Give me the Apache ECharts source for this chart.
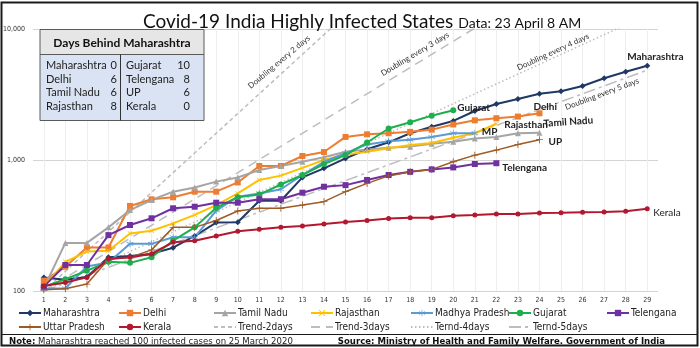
<!DOCTYPE html>
<html>
<head>
<meta charset="utf-8">
<script src="https://cdn.jsdelivr.net/npm/echarts@6/dist/echarts.min.js"></script>
<style>
  html, body { margin: 0; padding: 0; background: #ffffff; }
  #chart { width: 700px; height: 348px; }
</style>
</head>
<body>
<div id="chart"></div>
<script>
// Days since each state crossed 100 confirmed cases
const days = ['1','2','3','4','5','6','7','8','9','10','11','12','13','14','15','16','17','18','19','20','21','22','23','24','25','26','27','28','29'];

// Confirmed cases per state, day 1 = first day at or above 100
const maharashtra = [127, 122, 128, 181, 185, 192, 214, 263, 333, 335, 489, 489, 736, 864, 1028, 1207, 1365, 1600, 1796, 1986, 2366, 2676, 2922, 3207, 3345, 3672, 4204, 4723, 5248];
const delhi = [120, 153, 215, 215, 446, 501, 519, 573, 573, 674, 900, 900, 1073, 1150, 1500, 1570, 1600, 1640, 1705, 1867, 2008, 2085, 2145, 2273];
const tamilNadu = [105, 233, 233, 306, 415, 495, 573, 617, 684, 736, 838, 900, 970, 1050, 1156, 1204, 1242, 1265, 1330, 1380, 1460, 1500, 1600, 1616];
const rajasthan = [108, 167, 200, 203, 275, 288, 328, 381, 453, 556, 704, 760, 870, 1000, 1100, 1156, 1230, 1300, 1350, 1480, 1600, 1890];
const madhyaPradesh = [104, 105, 154, 165, 229, 229, 257, 257, 411, 525, 556, 598, 768, 970, 1127, 1315, 1390, 1430, 1500, 1600, 1600];
const gujarat = [108, 123, 143, 167, 164, 181, 242, 306, 432, 520, 545, 650, 768, 932, 1090, 1360, 1740, 1940, 2180, 2400];
const telengana = [108, 158, 158, 267, 319, 359, 428, 440, 472, 472, 502, 502, 563, 625, 643, 704, 768, 812, 848, 878, 932, 945];
const uttarPradesh = [102, 104, 113, 175, 180, 206, 306, 306, 345, 408, 428, 428, 453, 481, 573, 663, 756, 812, 848, 970, 1089, 1190, 1315, 1430];
const kerala = [109, 116, 127, 176, 181, 192, 236, 242, 263, 286, 296, 306, 314, 325, 336, 345, 357, 363, 363, 376, 380, 387, 387, 394, 396, 399, 401, 406, 425];

// Doubling trend lines: [day, cases] at both ends (straight on a log scale)
const trend2days = [[1, 100], [15, 12800]];
const trend3days = [[1, 100], [22, 12800]];
const trend4days = [[1, 100], [29, 12800]];
const trend5days = [[1, 100], [29, 4850]];

// Y-axis ticks
const yTicks = [100, 1000, 10000];

// "Days Behind Maharashtra" table
const tableTitle = 'Days Behind Maharashtra';
const tableLeftStates = ['Maharashtra', 'Delhi', 'Tamil Nadu', 'Rajasthan'];
const tableLeftDays = [0, 6, 6, 8];
const tableRightStates = ['Gujarat', 'Telengana', 'UP', 'Kerala'];
const tableRightDays = [10, 8, 6, 0];

const titleText = 'Covid-19 India Highly Infected States';
const subtitleText = 'Data: 23 April 8 AM';
const noteText = 'Maharashtra reached 100 infected cases on 25 March 2020';
const sourceText = 'Source: Ministry of Health and Family Welfare. Government of India';

// ---------------------------------------------------------------
const FONT_C = 'Lato, "Open Sans", "Noto Sans", sans-serif';
const FONT_N = '"Liberation Sans Narrow", "Arial Narrow", "DejaVu Sans Condensed", sans-serif';

const SYM_X = 'path://M-4.3,-3.5L-3.5,-4.3L4.3,3.5L3.5,4.3Z M-4.3,3.5L-3.5,4.3L4.3,-3.5L3.5,-4.3Z';
const SYM_STAR = 'path://M-0.5,-5L0.5,-5L0.5,5L-0.5,5Z M-4.6,-2.1L-4.1,-2.9L4.6,2.1L4.1,2.9Z M-4.6,2.1L-4.1,2.9L4.6,-2.1L4.1,-2.9Z';
const SYM_PLUS = 'path://M-0.6,-5L0.6,-5L0.6,5L-0.6,5Z M-5,-0.6L5,-0.6L5,0.6L-5,0.6Z';

function stateSeries(name, data, color, symbol, symbolSize, width) {
  return {
    name: name, type: 'line', data: data,
    symbol: symbol, symbolSize: symbolSize, showSymbol: true,
    lineStyle: { color: color, width: width },
    itemStyle: { color: color, borderWidth: 0 },
    emphasis: { disabled: true },
    z: 3
  };
}
function trendSeries(name, pts, dash) {
  return {
    name: name, type: 'line',
    data: pts.map(p => [p[0] - 1, p[1]]),
    symbol: 'circle', showSymbol: false, clip: true,
    lineStyle: { color: '#BDBDBD', width: 1.5, type: dash },
    itemStyle: { color: '#BDBDBD', opacity: 0 },
    emphasis: { disabled: true },
    z: 2
  };
}

const series = [
  stateSeries('Maharashtra', maharashtra, '#1F3864', 'diamond', 6, 2),
  stateSeries('Delhi', delhi, '#ED7D31', 'rect', 6, 2),
  stateSeries('Tamil Nadu', tamilNadu, '#A5A5A5', 'triangle', 6, 2),
  stateSeries('Rajasthan', rajasthan, '#FFC000', SYM_X, 5, 2),
  stateSeries('Madhya Pradesh', madhyaPradesh, '#5B9BD5', SYM_STAR, 7, 2),
  stateSeries('Gujarat', gujarat, '#1DAF4E', 'circle', 6, 2),
  stateSeries('Telengana', telengana, '#7030A0', 'rect', 6, 2),
  stateSeries('Uttar Pradesh', uttarPradesh, '#9E5A24', SYM_PLUS, 7, 1.5),
  stateSeries('Kerala', kerala, '#B3182E', 'circle', 5, 2),
  trendSeries('Trend-2days', trend2days, [4, 3]),
  trendSeries('Trend-3days', trend3days, [9, 6]),
  trendSeries('Ternd-4days', trend4days, [1.5, 2.5]),
  trendSeries('Ternd-5days', trend5days, [12, 4, 3, 4])
];

// Legend laid out as a 7-column grid, two rows
const trendNames = ['Trend-2days', 'Trend-3days', 'Ternd-4days', 'Ternd-5days'];
const legendColumns = [
  [18, ['Maharashtra', 'Uttar Pradesh']],
  [118, ['Delhi', 'Kerala']],
  [213, ['Tamil Nadu', 'Trend-2days']],
  [310, ['Rajasthan', 'Trend-3days']],
  [410, ['Madhya Pradesh', 'Ternd-4days']],
  [508, ['Gujarat', 'Ternd-5days']],
  [606, ['Telengana']]
];
const legends = legendColumns.map(c => ({
  orient: 'vertical', left: c[0], top: 308,
  itemWidth: 22, itemHeight: 8, itemGap: 4, padding: 0,
  selectedMode: false,
  textStyle: { fontFamily: FONT_N, fontSize: 10, color: '#222', padding: [0, 0, 0, -3] },
  data: c[1].map(n => trendNames.indexOf(n) >= 0 ? { name: n, itemStyle: { opacity: 0 } } : n)
}));

// Table graphics
const TX = 40, TY = 29.5, TW = 164, TH1 = 25, TH2 = 66, COLX = 120.5;
const tableGraphics = [
  { type: 'rect', shape: { x: TX, y: TY, width: TW, height: TH1 }, style: { fill: '#E7E6E6', stroke: '#5A5A5A', lineWidth: 1 }, z: 10 },
  { type: 'rect', shape: { x: TX, y: TY + TH1, width: TW, height: TH2 }, style: { fill: '#DAE3F3', stroke: '#5A5A5A', lineWidth: 1 }, z: 10 },
  { type: 'line', shape: { x1: COLX, y1: TY + TH1, x2: COLX, y2: TY + TH1 + TH2 }, style: { stroke: '#333', lineWidth: 1 }, z: 11 },
  { type: 'text', x: TX + TW / 2, y: TY + TH1 / 2 + 1, z: 12,
    style: { text: tableTitle, fontFamily: FONT_C, fontWeight: 'bold', fontSize: 12, fill: '#111', align: 'center', verticalAlign: 'middle' } }
];
const rowY = [65, 79, 92.5, 106.5];
tableLeftStates.forEach((s, i) => {
  tableGraphics.push({ type: 'text', x: 46, y: rowY[i], z: 12, style: { text: s, fontFamily: FONT_C, fontSize: 11, fill: '#222', verticalAlign: 'middle' } });
  tableGraphics.push({ type: 'text', x: 117, y: rowY[i], z: 12, style: { text: String(tableLeftDays[i]), fontFamily: FONT_C, fontSize: 11, fill: '#222', align: 'right', verticalAlign: 'middle' } });
});
tableRightStates.forEach((s, i) => {
  tableGraphics.push({ type: 'text', x: 126, y: rowY[i], z: 12, style: { text: s, fontFamily: FONT_C, fontSize: 11, fill: '#222', verticalAlign: 'middle' } });
  tableGraphics.push({ type: 'text', x: 190, y: rowY[i], z: 12, style: { text: String(tableRightDays[i]), fontFamily: FONT_C, fontSize: 11, fill: '#222', align: 'right', verticalAlign: 'middle' } });
});

const frameGraphics = [
  { type: 'rect', shape: { x: 1.5, y: 2.5, width: 696, height: 343 }, style: { fill: 'none', stroke: '#1A1A1A', lineWidth: 2 }, z: 20, silent: true },
  { type: 'line', shape: { x1: 1.5, y1: 334.5, x2: 697.5, y2: 334.5 }, style: { stroke: '#1A1A1A', lineWidth: 1 }, z: 20 },
  { type: 'text', x: 9, y: 342, z: 12,
    style: { text: '{b|Note:} ' + noteText, fontFamily: FONT_N, fontSize: 9.5, fill: '#222', verticalAlign: 'middle',
      rich: { b: { fontFamily: FONT_N, fontSize: 9.5, fontWeight: 'bold', fill: '#111' } } } },
  { type: 'text', x: 665, y: 342, z: 12,
    style: { text: sourceText, fontFamily: FONT_N, fontSize: 9.5, fontWeight: 'bold', fill: '#111', align: 'right', verticalAlign: 'middle' } }
];

const chart = echarts.init(document.getElementById('chart'), null, { renderer: 'canvas' });
chart.setOption({
  animation: false,
  backgroundColor: '#ffffff',
  title: {
    text: '{a|' + titleText + '} {b|' + subtitleText + '}',
    left: 143, top: 5, padding: 0,
    textStyle: {
      fontWeight: 'normal',
      rich: {
        a: { fontFamily: FONT_C, fontSize: 19, fontWeight: 'normal', color: '#111', lineHeight: 26, verticalAlign: 'bottom' },
        b: { fontFamily: FONT_C, fontSize: 14, fontWeight: 'normal', color: '#111', lineHeight: 26, verticalAlign: 'bottom', padding: [0, 0, 1, 0] }
      }
    }
  },
  legend: legends,
  grid: { left: 32, right: 42, top: 29, bottom: 57, containLabel: false },
  xAxis: {
    type: 'category', data: days, boundaryGap: true,
    axisLine: { show: false }, axisTick: { show: false },
    axisLabel: { fontFamily: FONT_N, fontSize: 7, color: '#333', margin: 6, interval: 0 },
    splitLine: { show: true, alignWithLabel: true, interval: 0, lineStyle: { color: '#EEEEEE', width: 1 } }
  },
  yAxis: {
    type: 'log', logBase: 10, min: yTicks[0], max: yTicks[yTicks.length - 1],
    axisLine: { show: false }, axisTick: { show: false },
    axisLabel: { fontFamily: FONT_N, fontSize: 7, color: '#333', margin: 8,
      formatter: v => Number(v).toLocaleString('en-US') },
    splitLine: { lineStyle: { color: '#D4D4D4', width: 1 } },
    minorSplitLine: { show: false }
  },
  series: series,
  graphic: { elements: tableGraphics.concat(frameGraphics) }
});

// Series name labels next to each line's last point; trend labels along the lines
const endLabels = [
  ['Maharashtra', maharashtra, 'Maharashtra', -20, -9, 'bold', 0],
  ['Delhi', delhi, 'Delhi', -6, -7, 'bold', 0],
  ['Gujarat', gujarat, 'Gujarat', 4, -2, 'bold', 0],
  ['Rajasthan', rajasthan, 'Rajasthan', 8, 1, 'bold', 0],
  ['Madhya Pradesh', madhyaPradesh, 'MP', 7, -1, 'bold', 0],
  ['Tamil Nadu', tamilNadu, 'Tamil Nadu', 4, -9, 'bold', 0.07],
  ['Uttar Pradesh', uttarPradesh, 'UP', 9, 2, 'bold', 0],
  ['Telengana', telengana, 'Telengana', 6, 5, 'bold', 0],
  ['Kerala', kerala, 'Kerala', 6, 4, 'normal', 0]
];
const names = series.map(s => s.name);
const labelEls = endLabels.map(l => {
  const idx = names.indexOf(l[0]);
  const last = l[1].length - 1;
  const p = chart.convertToPixel({ seriesIndex: idx }, [last, l[1][last]]);
  return { type: 'text', x: p[0] + l[3], y: p[1] + l[4], rotation: l[6], z: 15,
    style: { text: l[2], fontFamily: FONT_C, fontSize: 10, fontWeight: l[5], fill: '#222', verticalAlign: 'middle' } };
});
const trendLabels = [
  ['Doubling every 2 days', 279, 62, 40],
  ['Doubling every 3 days', 415, 54, 31],
  ['Doubling every 4 days', 553, 52, 24.5],
  ['Doubling every 5 days', 602, 94, 20.5]
];
trendLabels.forEach(t => {
  labelEls.push({ type: 'text', x: t[1], y: t[2], rotation: t[3] * Math.PI / 180, z: 15,
    style: { text: t[0], fontFamily: FONT_C, fontSize: 8, fill: '#333', align: 'center', verticalAlign: 'middle' } });
});
chart.setOption({ graphic: { elements: tableGraphics.concat(frameGraphics, labelEls) } });
</script>
</body>
</html>
